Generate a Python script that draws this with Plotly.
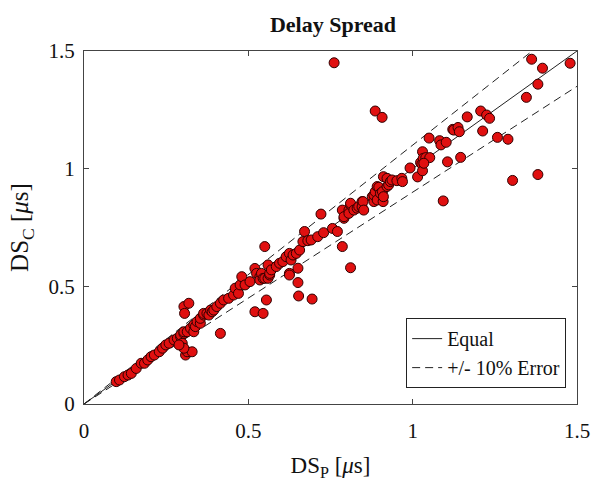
import plotly.graph_objects as go

# Measured delay spread (DS_P) versus computed delay spread (DS_C), in microseconds
ds_p = [0.098, 0.108, 0.123, 0.134, 0.144, 0.159, 0.174, 0.184, 0.194, 0.204,
        0.214, 0.229, 0.239, 0.249, 0.259, 0.274, 0.284, 0.294, 0.294, 0.299,
        0.304, 0.304, 0.309, 0.314, 0.329, 0.304, 0.289, 0.304, 0.319, 0.306,
        0.314, 0.324, 0.334, 0.334, 0.339, 0.344, 0.354, 0.354, 0.364, 0.364,
        0.374, 0.380, 0.385, 0.390, 0.395, 0.404, 0.415, 0.415, 0.425, 0.440,
        0.455, 0.460, 0.470, 0.475, 0.480, 0.490, 0.505, 0.520, 0.525, 0.535,
        0.535, 0.540, 0.545, 0.550, 0.550, 0.555, 0.520, 0.545, 0.560, 0.560,
        0.565, 0.565, 0.570, 0.585, 0.595, 0.605, 0.615, 0.625, 0.625, 0.625,
        0.630, 0.636, 0.646, 0.656, 0.666, 0.671, 0.681, 0.691, 0.711, 0.721,
        0.729, 0.651, 0.651, 0.653, 0.694, 0.756, 0.771, 0.786, 0.811, 0.786,
        0.791, 0.791, 0.806, 0.806, 0.811, 0.811, 0.821, 0.831, 0.836, 0.846,
        0.846, 0.849, 0.851, 0.761, 0.877, 0.882, 0.882, 0.886, 0.892, 0.892,
        0.897, 0.902, 0.908, 0.910, 0.911, 0.911, 0.922, 0.922, 0.927, 0.932,
        0.937, 0.952, 0.967, 0.969, 0.886, 0.907, 0.992, 1.015, 1.024, 1.028,
        1.030, 1.030, 1.032, 1.040, 1.052, 1.034, 1.050, 1.082, 1.086, 1.102,
        1.093, 1.106, 1.122, 1.125, 1.138, 1.142, 1.146, 1.166, 1.207, 1.213,
        1.225, 1.234, 1.258, 1.290, 1.304, 1.346, 1.362, 1.381, 1.381, 1.395,
        1.479]
ds_c = [0.095, 0.102, 0.116, 0.123, 0.130, 0.151, 0.173, 0.173, 0.187, 0.201,
        0.208, 0.222, 0.237, 0.251, 0.258, 0.272, 0.279, 0.286, 0.293, 0.258,
        0.300, 0.307, 0.208, 0.222, 0.222, 0.237, 0.251, 0.414, 0.428, 0.385,
        0.307, 0.322, 0.307, 0.336, 0.329, 0.350, 0.343, 0.364, 0.378, 0.385,
        0.385, 0.378, 0.399, 0.392, 0.399, 0.414, 0.428, 0.300, 0.442, 0.449,
        0.463, 0.492, 0.470, 0.506, 0.541, 0.506, 0.520, 0.576, 0.555, 0.541,
        0.527, 0.555, 0.534, 0.534, 0.669, 0.442, 0.392, 0.385, 0.534, 0.591,
        0.548, 0.555, 0.570, 0.584, 0.598, 0.605, 0.626, 0.640, 0.555, 0.548,
        0.612, 0.633, 0.640, 0.654, 0.690, 0.733, 0.694, 0.697, 0.711, 0.807,
        0.728, 0.577, 0.516, 0.459, 0.446, 0.746, 0.733, 0.669, 0.579, 0.824,
        0.789, 0.796, 0.824, 0.810, 0.846, 0.853, 0.824, 0.832, 0.839, 0.860,
        0.837, 0.860, 0.824, 1.450, 0.881, 0.860, 0.888, 0.902, 0.867, 0.924,
        0.921, 0.895, 0.902, 0.860, 0.881, 0.966, 0.959, 0.924, 0.931, 0.945,
        0.952, 0.949, 0.959, 0.945, 1.245, 1.218, 1.003, 0.965, 1.026, 1.019,
        1.072, 0.991, 1.044, 1.047, 1.047, 1.023, 1.130, 1.119, 1.101, 1.112,
        0.863, 1.029, 1.167, 1.164, 1.175, 1.157, 1.048, 1.220, 1.245, 1.160,
        1.228, 1.214, 1.133, 1.125, 0.950, 1.303, 1.465, 1.359, 0.975, 1.427,
        1.448]

# Reference lines: equality and +/- 10 % bounds
ref_x = [0.0, 1.5]
equal_y = [0.0, 1.5]
upper_x = [0.0, 1.5 / 1.1]
upper_y = [0.0, 1.5]
lower_x = [0.0, 1.5]
lower_y = [0.0, 1.35]

serif = "Liberation Serif, Times New Roman, serif"
line_col = "#222222"
dash_style = "8px,5px"

fig = go.Figure()

fig.add_trace(go.Scatter(
    x=ref_x, y=equal_y, mode="lines", name="Equal",
    line=dict(color=line_col, width=1),
))
fig.add_trace(go.Scatter(
    x=upper_x, y=upper_y, mode="lines", name="+/- 10% Error",
    line=dict(color=line_col, width=1, dash=dash_style),
))
fig.add_trace(go.Scatter(
    x=lower_x, y=lower_y, mode="lines", showlegend=False,
    line=dict(color=line_col, width=1, dash=dash_style),
))
fig.add_trace(go.Scatter(
    x=ds_p, y=ds_c, mode="markers", showlegend=False,
    marker=dict(size=10, color="#e01010", line=dict(color="#300000", width=1)),
))

axis_common = dict(
    range=[0, 1.5], tickvals=[0, 0.5, 1, 1.5], ticktext=["0", "0.5", "1", "1.5"],
    showgrid=False, zeroline=False, showline=True, linecolor="#444444", linewidth=1,
    mirror="ticks", ticks="inside", ticklen=5, tickcolor="#444444",
    tickfont=dict(family=serif, size=21, color="#111111"),
)

fig.update_xaxes(
    **axis_common,
    ticklabelstandoff=8,
    title=dict(text="DS<sub>P</sub> [<i>μ</i>s]", font=dict(family=serif, size=23, color="#111111"),
               standoff=14),
)
fig.update_yaxes(
    **axis_common,
    ticklabelstandoff=4,
    title=dict(text="DS<sub>C</sub> [<i>μ</i>s]", font=dict(family=serif, size=25, color="#111111"),
               standoff=12),
)

fig.update_layout(
    width=602, height=493,
    margin=dict(l=84, r=20, t=51, b=89),
    paper_bgcolor="white", plot_bgcolor="white",
    title=dict(text="<b>Delay Spread</b>", x=(84 + 249) / 602, xanchor="center",
               y=0.95, yanchor="middle",
               font=dict(family=serif, size=22, color="#111111")),
    legend=dict(x=0.978, y=0.045, xanchor="right", yanchor="bottom",
                bgcolor="white", bordercolor="#222222", borderwidth=1,
                font=dict(family=serif, size=20, color="#111111"),
                tracegroupgap=0, itemwidth=30),
    showlegend=True,
)

fig.write_html("out.html")
